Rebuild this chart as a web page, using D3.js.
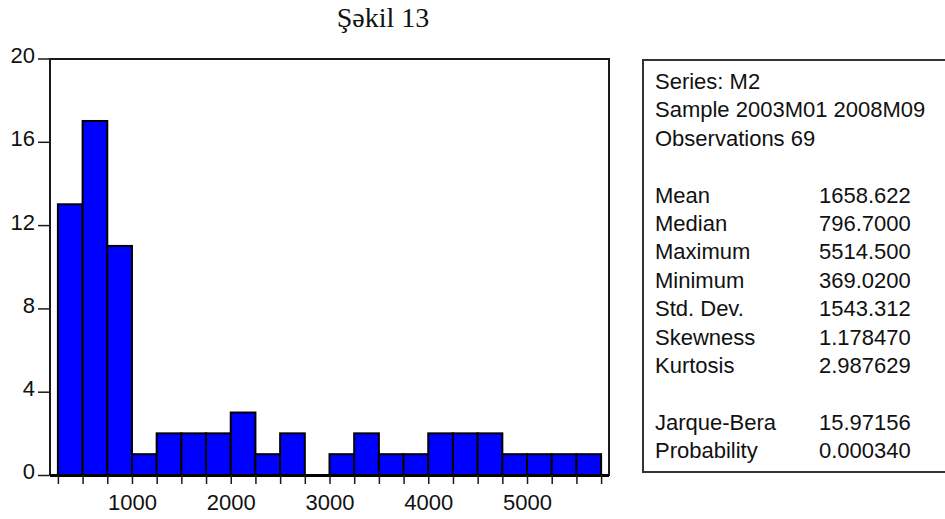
<!DOCTYPE html>
<html>
<head>
<meta charset="utf-8">
<script src="https://cdn.jsdelivr.net/npm/d3@7/dist/d3.min.js"></script>
<style>
  html, body { margin: 0; padding: 0; background: #fff; }
  svg { display: block; }
  text { font-family: "Liberation Sans", Arial, sans-serif; fill: #111; }
</style>
</head>
<body>
<svg id="chart" width="945" height="519"></svg>
<script>
// ---- data ----
const title = "Şəkil 13";
const binLower = [250, 500, 750, 1000, 1250, 1500, 1750, 2000, 2250, 2500, 2750,
                  3000, 3250, 3500, 3750, 4000, 4250, 4500, 4750, 5000, 5250, 5500];
const binWidth = 250;
const counts = [13, 17, 11, 1, 2, 2, 2, 3, 1, 2, 0,
                1, 2, 1, 1, 2, 2, 2, 1, 1, 1, 1];
const xTickLabels = [1000, 2000, 3000, 4000, 5000];
const xMinorTicks = [250, 500, 750, 1000, 1250, 1500, 1750, 2000, 2250, 2500, 2750, 3000,
                     3250, 3500, 3750, 4000, 4250, 4500, 4750, 5000, 5250, 5500, 5750];
const yTickLabels = [0, 4, 8, 12, 16, 20];
const headerLines = ["Series: M2", "Sample 2003M01 2008M09", "Observations 69"];
const statLabels1 = ["Mean", "Median", "Maximum", "Minimum", "Std. Dev.", "Skewness", "Kurtosis"];
const statValues1 = ["1658.622", "796.7000", "5514.500", "369.0200", "1543.312", "1.178470", "2.987629"];
const statLabels2 = ["Jarque-Bera", "Probability"];
const statValues2 = ["15.97156", "0.000340"];

// ---- layout ----
const svg = d3.select("#chart");
const plot = { left: 50, right: 609, top: 59, bottom: 475 };

const x = d3.scaleLinear().domain([170, 5830]).range([plot.left, plot.right]);
const y = d3.scaleLinear().domain([0, 20]).range([plot.bottom, 58.5]);

// title
svg.append("text")
  .attr("x", 383).attr("y", 27)
  .attr("text-anchor", "middle")
  .style("font-family", "'Liberation Serif', 'Times New Roman', serif")
  .style("font-size", "28px")
  .style("fill", "#111")
  .text(title);

// bars
svg.append("g").selectAll("rect")
  .data(binLower.map((b, i) => ({ b, c: counts[i] })).filter(d => d.c > 0))
  .join("rect")
  .attr("x", d => x(d.b))
  .attr("y", d => y(d.c))
  .attr("width", d => x(d.b + binWidth) - x(d.b))
  .attr("height", d => y(0) - y(d.c))
  .attr("fill", "#0000FF")
  .attr("stroke", "#000")
  .attr("stroke-width", 2);

// frame (top, left, right)
svg.append("path")
  .attr("d", `M${plot.left},${plot.bottom + 1} V${plot.top} H${plot.right} V${plot.bottom + 1}`)
  .attr("fill", "none")
  .attr("stroke", "#1a1a1a")
  .attr("stroke-width", 2);

// y axis
const yAxis = d3.axisLeft(y).tickValues(yTickLabels).tickSize(11).tickPadding(3).tickFormat(d3.format("d"));
const gy = svg.append("g").attr("transform", `translate(${plot.left - 1},0)`).call(yAxis);
gy.select(".domain").remove();
gy.selectAll(".tick line").attr("stroke", "#1a1a1a").attr("stroke-width", 1.5);
gy.selectAll(".tick text")
  .style("font-size", "22px")
  .style("font-family", "'Liberation Sans', Arial, sans-serif")
  .attr("fill", "#111")
  .attr("dy", "0.18em");

// x axis: bottom thick line and minor ticks
svg.append("line")
  .attr("x1", plot.left).attr("x2", plot.right)
  .attr("y1", plot.bottom + 0.5).attr("y2", plot.bottom + 0.5)
  .attr("stroke", "#000").attr("stroke-width", 3);

const xAxisMinor = d3.axisBottom(x).tickValues(xMinorTicks).tickSize(9).tickFormat("");
const gxm = svg.append("g").attr("transform", `translate(0,${plot.bottom})`).call(xAxisMinor);
gxm.select(".domain").remove();
gxm.selectAll(".tick line").attr("stroke", "#1a1a1a").attr("stroke-width", 1.5);

const xAxis = d3.axisBottom(x).tickValues(xTickLabels).tickSize(0).tickPadding(19).tickFormat(d3.format("d"));
const gx = svg.append("g").attr("transform", `translate(0,${plot.bottom})`).call(xAxis);
gx.select(".domain").remove();
gx.selectAll(".tick text")
  .style("font-size", "22px")
  .style("font-family", "'Liberation Sans', Arial, sans-serif")
  .attr("fill", "#111");

// stats box
const box = { left: 643, top: 60, right: 960, bottom: 472 };
svg.append("rect")
  .attr("x", box.left).attr("y", box.top)
  .attr("width", box.right - box.left).attr("height", box.bottom - box.top)
  .attr("fill", "#fff").attr("stroke", "#333").attr("stroke-width", 2);

const lineH = 28.4;
const base0 = 89;
const labelX = 655, valueX = 819;
const rows = [];
headerLines.forEach((t, i) => rows.push({ l: t, v: "", row: i }));
statLabels1.forEach((t, i) => rows.push({ l: t, v: statValues1[i], row: 4 + i }));
statLabels2.forEach((t, i) => rows.push({ l: t, v: statValues2[i], row: 12 + i }));

const gs = svg.append("g").style("font-size", "22px");
gs.selectAll("text.lab").data(rows).join("text")
  .attr("class", "lab")
  .attr("x", labelX).attr("y", d => base0 + d.row * lineH)
  .text(d => d.l);
gs.selectAll("text.val").data(rows.filter(d => d.v)).join("text")
  .attr("class", "val")
  .attr("x", valueX).attr("y", d => base0 + d.row * lineH)
  .text(d => d.v);
</script>
</body>
</html>
